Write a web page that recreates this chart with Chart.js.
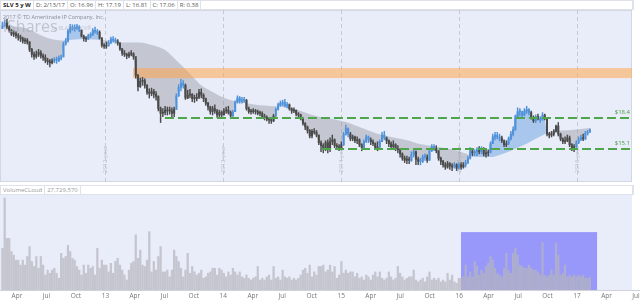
<!DOCTYPE html>
<html>
<head>
<meta charset="utf-8">
<script src="https://cdn.jsdelivr.net/npm/chart.js"></script>
<style>
body{margin:0;width:640px;height:300px;overflow:hidden;background:#fff;position:relative;font-family:"Open Sans",Arial,sans-serif}
.bar{position:absolute;left:0;width:634px;height:10px;display:flex;border:1px solid #dfe2ea;box-sizing:border-box;background:#fff}
.bar div{font-size:6px;line-height:8px;padding:0 2px;border-right:1px solid #dfe2ea;color:#555;white-space:nowrap;box-sizing:border-box}
#top{top:0}
#volhead{top:185px}
#volhead div{color:#999}
canvas{position:absolute;left:0}
#main{top:10px}
#volume{top:195px}
</style>
</head>
<body>
<div class="bar" id="top">
  <div style="font-weight:bold;color:#222">SLV 5 y W</div>
  <div>D: 2/13/17</div>
  <div>O: 16.96</div>
  <div>H: 17.19</div>
  <div>L: 16.81</div>
  <div>C: 17.06</div>
  <div>R: 0.38</div>
  <div style="flex:1"></div>
</div>
<canvas id="main" width="640" height="172"></canvas>
<div class="bar" id="volhead">
  <div>VolumeCLoud</div>
  <div>27,729,570</div>
  <div style="flex:1"></div>
</div>
<canvas id="volume" width="640" height="105"></canvas>
<script>
// weekly SLV candles, Feb 2012 - Feb 2017
var closes = [33.6,34.2,33.3,32.6,31.8,31.9,31.5,31.2,30.9,30.4,30.6,30.2,28.8,27.9,27.5,27.9,28.2,27.6,27.3,26.8,
  26.6,26.4,26.7,26.9,26.8,27.2,27.4,29.8,30.4,32.4,33.1,33.3,33.0,33.4,32.6,31.4,30.9,30.8,31.5,31.6,
  32.6,32.4,32.2,31.0,29.6,29.4,29.5,30.1,30.8,30.6,30.4,30.0,28.9,28.1,27.9,27.6,27.9,28.0,27.5,24.3,
  22.6,23.4,23.5,22.8,21.8,21.6,21.9,21.5,21.2,19.6,19.0,19.1,19.4,19.3,19.3,19.0,19.5,21.3,22.5,23.1,
  22.8,21.0,21.4,21.5,20.9,20.9,21.1,21.8,21.4,20.9,20.3,19.8,19.2,19.6,19.3,18.8,19.1,18.8,19.3,19.4,
  19.1,18.7,19.2,20.4,21.0,20.6,20.7,20.7,19.6,19.2,19.2,19.3,19.2,19.0,19.0,18.6,18.5,18.3,18.2,18.1,
  18.7,19.5,20.1,20.3,20.4,20.0,20.1,19.6,19.3,19.4,18.9,18.8,18.4,17.8,17.4,17.0,16.4,16.9,16.8,16.5,
  15.7,15.4,15.2,15.7,15.1,15.8,16.0,15.4,15.3,15.1,15.5,16.6,17.2,16.6,16.1,16.3,15.9,16.0,15.5,15.2,
  15.8,16.3,16.0,15.8,15.6,15.2,15.3,15.8,16.5,16.2,15.9,15.6,15.3,15.5,15.1,15.0,14.6,14.2,14.0,14.1,
  14.0,14.5,14.8,14.1,13.9,13.9,14.3,14.3,14.0,14.9,15.3,15.1,14.9,14.2,13.9,13.6,13.4,13.7,13.5,13.4,
  13.6,13.3,13.6,13.4,13.6,13.8,14.2,14.9,14.7,14.8,15.0,14.8,15.1,14.6,14.7,14.7,15.6,16.3,16.5,16.3,
  16.2,15.9,15.5,15.6,16.1,16.6,17.1,18.6,19.2,19.2,18.8,19.3,19.5,19.1,18.5,18.1,18.6,18.4,18.2,18.8,
  18.4,16.6,16.5,16.6,16.9,17.5,16.6,16.1,15.8,15.9,16.2,15.5,15.2,15.3,15.7,16.0,16.2,16.1,16.7,16.8,
  17.06];
var highs = [34.4,34.9,35.0,33.6,32.8,32.5,32.3,31.9,31.6,31.2,31.0,30.9,30.3,29.0,28.3,28.5,28.8,28.6,28.0,27.8,
  27.2,27.0,27.1,27.3,27.4,27.6,27.8,30.2,30.9,32.8,33.9,33.8,33.8,33.9,33.6,32.7,31.6,31.3,31.8,32.1,
  33.0,33.3,32.8,32.5,31.1,29.9,30.2,30.5,31.2,31.3,31.0,30.7,30.1,29.0,28.6,28.1,28.3,28.6,28.2,26.9,
  24.5,23.9,24.0,23.8,22.9,22.3,22.4,22.2,21.9,21.3,19.8,19.6,19.9,19.8,19.8,19.7,19.8,21.6,22.9,23.7,
  23.5,23.0,22.1,22.2,21.6,21.4,21.6,22.2,22.3,21.6,21.0,20.4,19.9,19.9,20.1,19.5,19.4,19.3,19.6,19.8,
  19.9,19.3,19.4,20.6,21.3,21.2,21.1,21.1,20.8,19.8,19.5,19.6,19.5,19.4,19.3,19.2,18.9,18.7,18.5,18.5,
  18.9,19.7,20.3,20.6,20.7,20.8,20.4,20.2,19.7,19.7,19.4,19.1,18.9,18.5,17.9,17.5,17.1,17.1,17.2,17.0,
  16.5,15.9,15.6,15.9,16.0,16.2,16.5,16.1,15.6,15.5,15.8,16.8,17.6,17.3,16.8,16.5,16.4,16.3,16.1,15.6,
  16.0,16.5,16.4,16.2,16.0,15.7,15.8,16.0,16.8,16.9,16.3,16.0,15.8,15.9,15.6,15.4,15.1,14.7,14.4,14.4,
  14.3,14.8,15.0,14.9,14.3,14.2,14.5,14.6,14.5,15.1,15.5,15.5,15.4,14.9,14.3,14.0,13.8,13.9,13.8,13.7,
  13.8,13.7,13.8,13.8,13.8,14.0,14.4,15.2,15.0,15.0,15.2,15.3,15.3,15.2,15.0,15.0,15.8,16.6,16.8,16.8,
  16.6,16.4,16.0,15.9,16.3,16.9,17.4,18.8,19.7,19.6,19.3,19.6,19.9,19.6,19.3,18.7,18.8,18.9,18.6,19.1,
  18.9,18.3,16.8,16.9,17.1,17.6,17.9,16.7,16.2,16.3,16.5,16.4,15.6,15.5,15.9,16.3,16.5,16.6,16.9,17.0,
  17.19];
var lows = [33.0,33.3,32.9,32.2,31.5,31.3,31.0,30.6,30.3,30.0,29.9,29.8,28.4,27.4,27.0,27.2,27.5,27.2,26.8,26.4,
  26.1,25.7,26.2,26.4,26.3,26.6,26.9,27.5,29.6,30.2,32.0,32.6,32.4,32.8,32.3,31.2,30.4,30.3,30.7,31.1,
  31.6,32.0,31.7,30.8,29.2,29.0,29.0,29.4,29.9,30.2,30.0,29.6,28.6,27.7,27.5,27.1,27.3,27.6,27.0,23.9,
  22.0,22.5,22.8,22.4,21.5,21.0,21.3,21.0,20.7,19.3,17.9,18.6,18.8,18.8,18.9,18.6,18.6,19.5,21.2,22.0,
  22.4,20.8,20.9,21.0,20.5,20.4,20.6,20.9,21.0,20.5,20.0,19.4,18.9,18.8,19.0,18.5,18.6,18.5,18.8,19.0,
  18.9,18.5,18.6,19.3,20.3,20.3,20.3,20.4,19.4,19.0,18.9,19.0,18.9,18.8,18.7,18.4,18.2,18.1,17.8,17.8,
  18.0,18.6,19.4,19.9,20.0,19.8,19.7,19.4,19.0,19.1,18.7,18.5,18.2,17.6,17.1,16.7,16.2,16.2,16.6,16.3,
  15.5,14.8,14.7,14.9,14.7,14.8,15.5,15.2,15.0,14.9,15.0,15.4,16.5,16.3,15.9,15.9,15.7,15.6,15.3,14.9,
  15.1,15.7,15.7,15.5,15.4,15.0,14.9,15.2,15.8,16.0,15.6,15.3,15.0,15.2,14.9,14.7,14.3,14.0,13.8,13.7,
  13.7,13.9,14.3,13.6,13.6,13.6,13.8,14.0,13.8,14.0,14.8,14.9,14.7,14.0,13.6,13.4,13.2,13.3,13.2,13.1,
  13.3,13.1,13.2,13.2,13.3,13.4,13.7,14.1,14.4,14.4,14.4,14.6,14.6,14.4,14.3,14.4,14.8,15.6,16.0,16.1,
  15.9,15.7,15.3,15.3,15.5,16.0,16.4,17.0,18.4,18.7,18.6,18.7,19.0,18.8,18.3,17.9,17.9,18.2,17.9,18.2,
  18.2,16.4,16.2,16.3,16.4,16.8,16.4,15.9,15.6,15.6,15.8,15.3,14.9,14.8,15.2,15.6,15.9,15.9,16.0,16.5,
  16.81];
// week ranges drawn in blue
var blueRuns = [[0,1],[23,34],[38,42],[47,50],[77,80],[102,107],[121,126],[151,153],[160,162],[167,169],
  [181,182],[185,187],[189,191],[200,200],[202,202],[205,207],[209,210],[212,212],[216,220],[224,233],
  [236,236],[238,239],[254,256],[258,260]];
// cloud edge (moving average), one value every 4 weeks
var maSample = [33.8,33.4,33.3,32.7,31.8,31.0,30.6,30.5,30.7,30.8,30.7,30.6,30.4,30.1,30.1,30.1,29.9,29.4,28.7,27.2,
  25.7,24.2,22.8,22.0,21.3,20.8,20.5,20.3,20.1,20.0,19.9,19.8,19.6,19.3,18.9,18.6,18.4,18.2,17.95,17.6,
  17.2,16.8,16.5,16.3,16.1,15.9,15.6,15.45,15.3,15.15,15.0,14.7,14.4,14.3,14.3,14.5,14.8,15.2,15.6,16.1,
  16.6,16.9,17.0,17.05,17.15,17.3];
// weekly volume, millions of shares
var volumes = [92,203,114,114,85,77,66,66,55, 66,55,74,96,63,52,74,48,74, 55,33,44,37,44,48,37,26,81,
  70,74,99,85,70,66,52,44,33, 55,37,55,48,52,33,92,48,66, 55,55,40,59,37,63,70,55,44,
  33,22,44,59,63,122,70,88,55, 52,66,129,40,63,44,74,96,40, 40,44,29,44,88,74,63,48,29,
  44,81,37,52,40,33,37,44,26, 29,37,40,48,48,33,48,44,37, 29,40,33,48,40,33,40,29,26,
  33,26,22,26,29,52,22,26,22, 29,33,22,52,26,29,22,44,29, 26,29,22,26,22,26,33,44,48,
  37,55,29,40,33,52,52,55,40, 44,55,40,52,26,33,63,37,44, 37,40,40,29,37,26,29,22,33,
  29,22,33,40,29,40,26,22,26, 40,29,22,26,52,37,29,22,26, 29,29,44,22,18,22,26,18,29,
  40,22,26,22,26,18,22,18,37, 22,33,18,15,26,26,29,55,29, 40,29,63,52,33,44,37,52,59,
  74,66,48,37,33,29,48,81,44, 37,81,92,77,55,52,48,48,55, 48,44,44,40,33,105,33,29,33,
  44,33,103,77,33,37,55,29,33, 29,33,29,33,29,33,26,26,27.7];
var tickText = ['Apr','Jul','Oct','13','Apr','Jul','Oct','14','Apr','Jul','Oct','15',
  'Apr','Jul','Oct','16','Apr','Jul','Oct','17','Apr','Jul'];
var yearLines = [2013,2014,2015,2016,2017];
var levels = [18.4, 15.1];
var levelFrom = [2013.505, 2014.837];
var zoneLo = 23.9, zoneHi = 25.5, zoneFrom = 2013.234;
var boxFrom = 2016.016, boxTo = 2017.17, boxTop = 128;

var firstWeek = 2012.1265;
var xMin = 2012.106, xMax = 2017.534;
var BLUE = '#4f92da', DARK = '#4a4a4a';
var FONT = '"Open Sans", sans-serif';

function weekX(i) { return firstWeek + i * 7 / 365.25; }

var candleColor = closes.map(function(c, i) {
    for (var k = 0; k < blueRuns.length; k++) {
        if (i >= blueRuns[k][0] && i <= blueRuns[k][1]) return BLUE;
    }
    return DARK;
});
var wicks = closes.map(function(c, i) { return {x: weekX(i), y: [lows[i], highs[i]]}; });
var bodies = closes.map(function(c, i) { return {x: weekX(i), y: [i ? closes[i-1] : lows[0], c]}; });
var tickVals = tickText.map(function(t, k) { return 2012.25 + k * 0.25; });

var mainDecor = {
    id: 'mainDecor',
    beforeDraw: function(chart) {
        var ctx = chart.ctx, h = chart.height;
        ctx.save();
        ctx.fillStyle = '#fff';
        ctx.fillRect(0, 0, chart.width, h);
        ctx.fillStyle = '#e9edf9';
        ctx.fillRect(0, 0, 632, h);
        ctx.strokeStyle = '#d3d7e3';
        ctx.strokeRect(0.5, 0.5, 631, h - 1);
        ctx.restore();
    },
    beforeDatasetsDraw: function(chart) {
        var ctx = chart.ctx, xs = chart.scales.x, h = chart.height;
        ctx.save();
        ctx.fillStyle = '#8a8d96';
        ctx.font = '5.5px ' + FONT;
        ctx.fillText('2017 \u00a9 TD Ameritrade IP Company, Inc.', 3, 9);
        // year dividers
        ctx.setLineDash([4, 3]);
        ctx.strokeStyle = '#c6c9d3';
        ctx.lineWidth = 1;
        yearLines.forEach(function(yr) {
            var px = Math.round(xs.getPixelForValue(yr)) + 0.5;
            ctx.beginPath();
            ctx.moveTo(px, 0);
            ctx.lineTo(px, h);
            ctx.stroke();
            ctx.save();
            ctx.translate(px + 1, h - 9);
            ctx.rotate(-Math.PI / 2);
            ctx.fillStyle = '#b9bcc6';
            ctx.font = '6px ' + FONT;
            ctx.fillText((yr - 1) + ' year', 0, 0);
            ctx.restore();
        });
        ctx.restore();
    },
    beforeDatasetDraw: function(chart, args) {
        if (args.index !== 2) return;
        var ctx = chart.ctx, xs = chart.scales.x, ys = chart.scales.y;
        var x0 = xs.getPixelForValue(zoneFrom);
        var y0 = ys.getPixelForValue(zoneHi), y1 = ys.getPixelForValue(zoneLo);
        ctx.save();
        ctx.fillStyle = 'rgba(255,165,75,0.55)';
        ctx.fillRect(x0, y0, 632 - x0, y1 - y0);
        ctx.restore();
    },
    afterDatasetsDraw: function(chart) {
        var ctx = chart.ctx, xs = chart.scales.x, ys = chart.scales.y;
        ctx.save();
        // translucent watermark over the first candles
        ctx.fillStyle = 'rgba(165,168,180,0.6)';
        ctx.font = '16px ' + FONT;
        ctx.fillText('iShares', 3, 22);
        ctx.font = '5px ' + FONT;
        ctx.fillText('by BLACKROCK\u00ae', 52, 20);
        levels.forEach(function(v, k) {
            var y = Math.round(ys.getPixelForValue(v));
            ctx.setLineDash([9, 4]);
            ctx.lineWidth = 1.8;
            ctx.strokeStyle = '#4da64a';
            ctx.beginPath();
            ctx.moveTo(xs.getPixelForValue(levelFrom[k]), y);
            ctx.lineTo(632, y);
            ctx.stroke();
            ctx.fillStyle = '#4a9a46';
            ctx.font = '6px ' + FONT;
            ctx.textAlign = 'right';
            ctx.fillText('$' + v, 630, y - 4);
        });
        ctx.restore();
    }
};

new Chart(document.getElementById('main'), {
    type: 'bar',
    data: {
        datasets: [
            {type: 'line', data: maSample.map(function(v, k) { return {x: weekX(k * 4), y: v}; }),
             borderWidth: 0, borderColor: 'transparent', pointRadius: 0,
             cubicInterpolationMode: 'monotone', fill: false, order: 5},
            {type: 'line', data: closes.map(function(v, i) { return {x: weekX(i), y: v}; }),
             borderWidth: 0, borderColor: 'transparent', pointRadius: 0, order: 4,
             fill: {target: 0, above: 'rgba(90,150,220,0.45)', below: 'rgba(150,150,162,0.45)'}},
            {data: wicks, backgroundColor: candleColor, barThickness: 0.8, grouped: false, order: 2},
            {data: bodies, backgroundColor: candleColor, barThickness: 1.4, minBarLength: 1, grouped: false, order: 1}
        ]
    },
    options: {
        responsive: false, animation: false, events: [], devicePixelRatio: 1,
        layout: {padding: 0},
        plugins: {legend: {display: false}, tooltip: {enabled: false}},
        scales: {
            x: {type: 'linear', min: xMin, max: xMax, offset: false, display: false},
            y: {type: 'logarithmic', min: 12.16, max: 37.21, display: false}
        }
    },
    plugins: [mainDecor]
});

var volDecor = {
    id: 'volDecor',
    beforeDraw: function(chart) {
        var ctx = chart.ctx, a = chart.chartArea;
        ctx.save();
        ctx.fillStyle = '#fff';
        ctx.fillRect(0, 0, chart.width, chart.height);
        ctx.fillStyle = '#e9edf9';
        ctx.fillRect(0, a.top, 632, a.bottom - a.top);
        ctx.restore();
    },
    beforeDatasetsDraw: function(chart) {
        var ctx = chart.ctx, xs = chart.scales.x, ys = chart.scales.y;
        var x0 = xs.getPixelForValue(boxFrom), x1 = xs.getPixelForValue(boxTo);
        var y0 = ys.getPixelForValue(boxTop), y1 = ys.getPixelForValue(0);
        ctx.save();
        ctx.fillStyle = '#9898fb';
        ctx.fillRect(x0, y0, x1 - x0, y1 - y0);
        ctx.restore();
    }
};

new Chart(document.getElementById('volume'), {
    type: 'bar',
    data: {
        datasets: [{
            data: volumes.map(function(v, i) { return {x: weekX(i), y: v}; }),
            backgroundColor: 'rgba(182,182,188,0.72)', barThickness: 1.6, grouped: false
        }]
    },
    options: {
        responsive: false, animation: false, events: [], devicePixelRatio: 1,
        layout: {padding: 0},
        plugins: {legend: {display: false}, tooltip: {enabled: false}},
        scales: {
            x: {
                type: 'linear', min: xMin, max: xMax, offset: false,
                grid: {display: false, drawTicks: false},
                border: {display: true, color: '#cfd2da'},
                afterBuildTicks: function(s) { s.ticks = tickVals.map(function(v) { return {value: v}; }); },
                afterFit: function(s) { s.paddingLeft = 0; s.paddingRight = 0; s.height = 10; },
                ticks: {autoSkip: false, maxRotation: 0, padding: 2, color: '#777',
                        font: {size: 6.5, family: FONT},
                        callback: function(v, idx) { return tickText[idx]; }}
            },
            y: {display: false, min: 0, max: 210}
        }
    },
    plugins: [volDecor]
});
</script>
</body>
</html>
